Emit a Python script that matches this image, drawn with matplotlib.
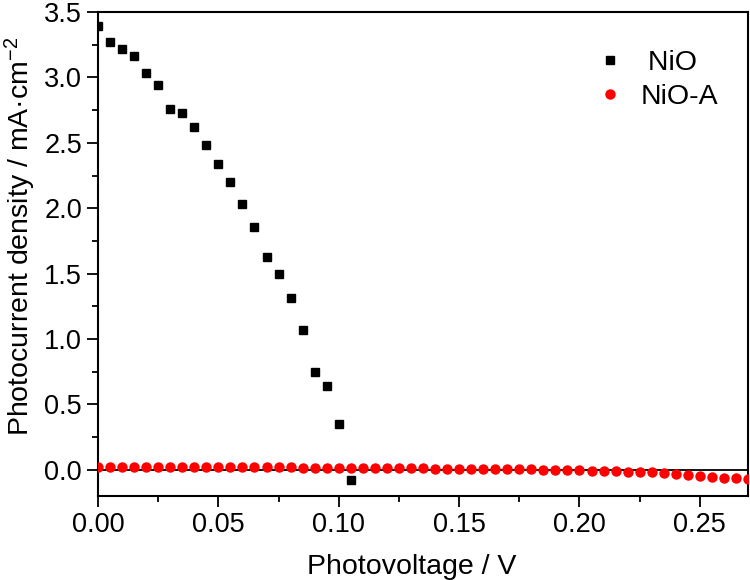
import numpy as np
import matplotlib.pyplot as plt
from matplotlib.ticker import MultipleLocator

plt.rcParams['font.family'] = ['Liberation Sans', 'DejaVu Sans']
plt.rcParams['mathtext.default'] = 'regular'
plt.rcParams['axes.unicode_minus'] = False

# NiO data
v_nio = np.arange(0, 0.1051, 0.005)
j_nio = [3.39, 3.27, 3.22, 3.16, 3.03, 2.94, 2.76, 2.73, 2.62, 2.48, 2.34,
         2.20, 2.03, 1.86, 1.63, 1.50, 1.31, 1.07, 0.75, 0.64, 0.35, -0.08]

# NiO-A data
v_nioa = np.arange(0, 0.2701, 0.005)
j_nioa = [0.024, 0.024, 0.024, 0.023, 0.023, 0.023, 0.022, 0.022, 0.022, 0.021, 0.021,
          0.020, 0.020, 0.019, 0.019, 0.018, 0.018, 0.017, 0.017, 0.016, 0.016,
          0.015, 0.015, 0.014, 0.013, 0.013, 0.012, 0.011, 0.010, 0.010, 0.009,
          0.008, 0.007, 0.006, 0.005, 0.004, 0.003, 0.002, 0.001, 0.000, -0.003,
          -0.005, -0.007, -0.010, -0.014, -0.018, -0.020, -0.025, -0.032, -0.038, -0.046,
          -0.054, -0.062, -0.064, -0.071]

fig = plt.figure(figsize=(7.5, 5.8), dpi=100)
ax = fig.add_axes([0.1307, 0.1448, 0.8666, 0.8345])

ax.axhline(0, color='black', lw=1.3, zorder=1)
ax.plot(v_nio, j_nio, 's', color='black', ms=5.5, label=' NiO', zorder=3)
ax.plot(v_nioa, j_nioa, 'o', color='red', ms=7.5, mec='none', label='NiO-A', zorder=3)

ax.set_xlim(0, 0.27)
ax.set_ylim(-0.2, 3.5)
ax.xaxis.set_major_locator(MultipleLocator(0.05))
ax.xaxis.set_minor_locator(MultipleLocator(0.025))
ax.yaxis.set_major_locator(MultipleLocator(0.5))
ax.yaxis.set_minor_locator(MultipleLocator(0.25))
ax.xaxis.set_major_formatter(plt.FormatStrFormatter('%.2f'))
ax.yaxis.set_major_formatter(plt.FormatStrFormatter('%.1f'))
ax.tick_params(which='major', direction='out', length=8, width=1.3, labelsize=19.5)
ax.tick_params(which='minor', direction='out', length=4.5, width=1.3)
for s in ax.spines.values():
    s.set_linewidth(1.5)

ax.set_xlabel('Photovoltage / V', fontsize=20.5)
ax.set_ylabel('Photocurrent density / mA·cm$^{-2}$', fontsize=20.5)
ax.xaxis.set_label_coords(0.483, -0.12)
ax.yaxis.set_label_coords(-0.093, 0.536)

ax.legend(loc='upper right', bbox_to_anchor=(0.993, 0.975), frameon=False,
          fontsize=20.5, handlelength=1.0, handletextpad=0.55, labelspacing=0.3)

fig.savefig('out.png', dpi=100)
